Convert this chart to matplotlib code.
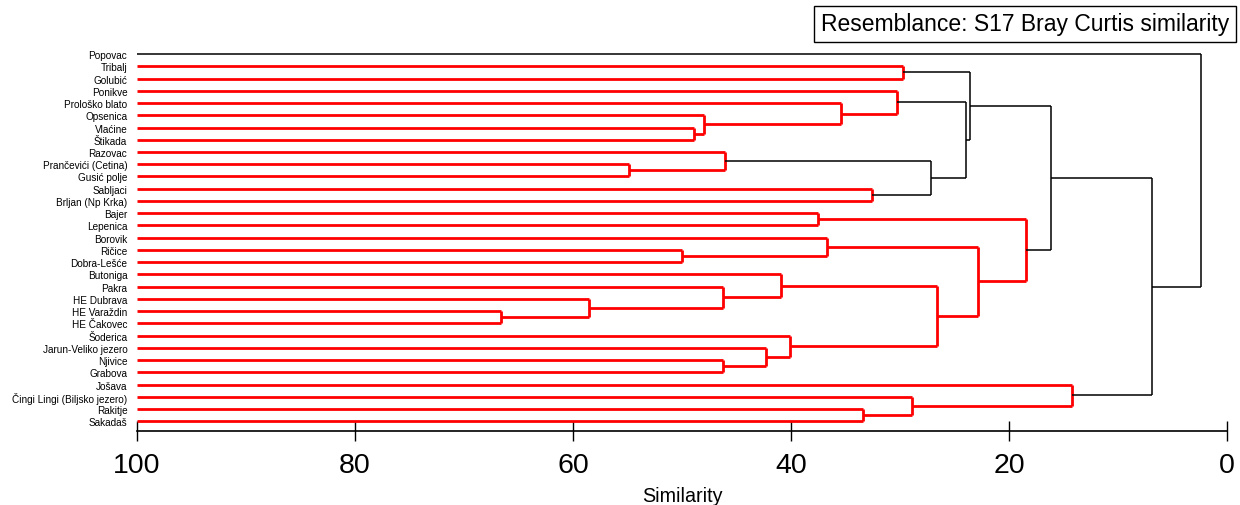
import matplotlib
matplotlib.use("Agg")
import matplotlib.pyplot as plt

plt.rcParams['font.family'] = ['Liberation Sans', 'DejaVu Sans']

# leaf order, top to bottom
leaves = ["Popovac", "Tribalj", "Golubić", "Ponikve", "Prološko blato", "Opsenica",
          "Vlaćine", "Štikada", "Razovac", "Prančevići (Cetina)", "Gusić polje",
          "Sabljaci", "Brljan (Np Krka)", "Bajer", "Lepenica", "Borovik", "Ričice",
          "Dobra-Lešće", "Butoniga", "Pakra", "HE Dubrava", "HE Varaždin",
          "HE Čakovec", "Šoderica", "Jarun-Veliko jezero", "Njivice", "Grabova",
          "Jošava", "Čingi Lingi (Biljsko jezero)", "Rakitje", "Sakadaš"]

# merges: node ids start after the leaves (31, 32, ...)
merge_a = [1, 6, 5, 4, 3, 9, 8, 11, 37, 35, 31,
           13, 16, 15, 21, 20, 19, 18, 25, 24, 23, 48, 44, 42, 41,
           29, 28, 27, 55, 0]
merge_b = [2, 7, 32, 33, 34, 10, 36, 12, 38, 39, 40,
           14, 17, 43, 22, 45, 46, 47, 26, 49, 50, 51, 52, 53, 54,
           30, 56, 57, 58, 59]
merge_sim = [29.7, 48.9, 48.0, 35.4, 30.3, 54.9, 46.1, 32.6, 27.2, 23.9, 23.6,
             37.5, 50.0, 36.7, 66.6, 58.5, 46.2, 40.9, 46.2, 42.3, 40.1, 26.6, 22.8, 18.4, 16.1,
             33.4, 28.9, 14.2, 6.9, 2.4]
# 1 = significant group (drawn red), 0 = not
merge_sig = [1, 1, 1, 1, 1, 1, 1, 1, 0, 0, 0,
             1, 1, 1, 1, 1, 1, 1, 1, 1, 1, 1, 1, 1, 0,
             1, 1, 1, 0, 0]

fig = plt.figure(figsize=(12.4, 5.06), dpi=100)
ax = fig.add_axes([0.1105, 0.1462, 0.879, 0.757])

n = len(leaves)
node_x = [100.0] * n
node_y = list(range(n))
for a, b, s, sig in zip(merge_a, merge_b, merge_sim, merge_sig):
    col = 'red' if sig else 'black'
    lw = 2.0 if sig else 1.1
    for c in (a, b):
        ax.plot([node_x[c], s], [node_y[c], node_y[c]], color=col, lw=lw,
                solid_capstyle='butt')
    ax.plot([s, s], [node_y[a], node_y[b]], color=col, lw=lw, solid_capstyle='butt')
    node_x.append(s)
    node_y.append((node_y[a] + node_y[b]) / 2)

ax.set_xlim(100, 0)
ax.set_ylim(30.8, -0.5)
ax.set_yticks(range(n))
ax.set_yticklabels(leaves, fontsize=7.2)
ax.tick_params(axis='y', length=0, pad=7)
ax.set_xticks([100, 80, 60, 40, 20, 0])
ax.tick_params(axis='x', direction='inout', length=14, width=1, pad=8, labelsize=20.5)
ax.set_xlabel("Similarity", fontsize=14.2, labelpad=6)
for side in ('left', 'right', 'top'):
    ax.spines[side].set_visible(False)
ax.spines['bottom'].set_linewidth(1.2)

fig.text(1229 / 1240, 1 - 25 / 506, "Resemblance: S17 Bray Curtis similarity", fontsize=16.5,
         ha='right', va='center',
         bbox=dict(boxstyle='square,pad=0.3', fc='white', ec='black', lw=1))

fig.savefig("out.png", dpi=100)
